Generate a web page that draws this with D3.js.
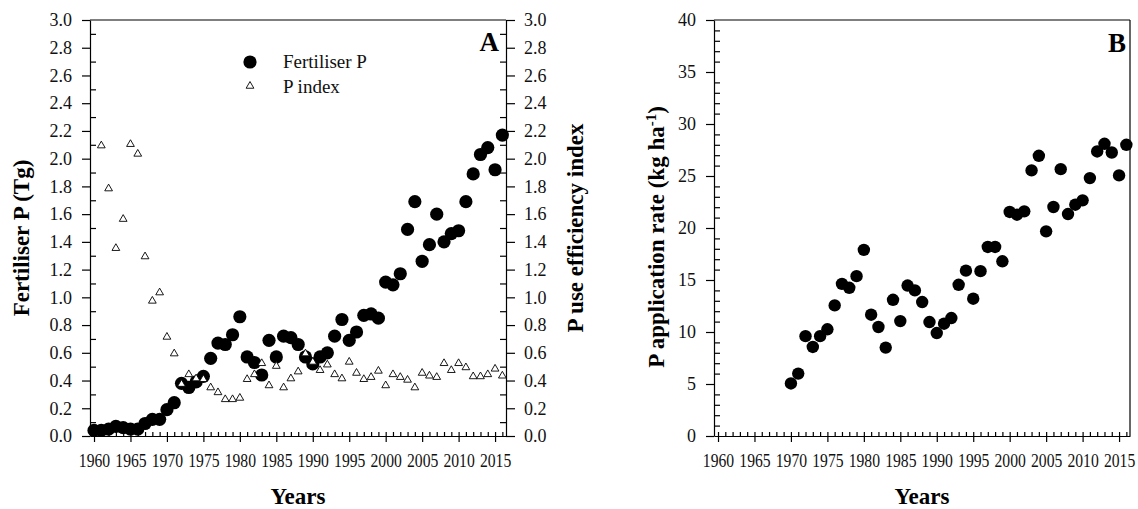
<!DOCTYPE html>
<html>
  <head>
    <meta charset="utf-8">
    <title>Fertiliser P</title>
    <script src="https://d3js.org/d3.v7.min.js"></script>
    <style>
      body { margin: 0; background: #fff; }
      svg { font-family: "Liberation Serif", "Times New Roman", serif; }
      .domain, .tick line { stroke: #000; stroke-width: 1.2; }
    </style>
  </head>
  <body>
    <svg id="chart" width="1138" height="509"></svg>
    <script>
      // data
      var yearsA = [1960, 1961, 1962, 1963, 1964, 1965, 1966, 1967, 1968, 1969,
        1970, 1971, 1972, 1973, 1974, 1975, 1976, 1977, 1978, 1979,
        1980, 1981, 1982, 1983, 1984, 1985, 1986, 1987, 1988, 1989,
        1990, 1991, 1992, 1993, 1994, 1995, 1996, 1997, 1998, 1999,
        2000, 2001, 2002, 2003, 2004, 2005, 2006, 2007, 2008, 2009,
        2010, 2011, 2012, 2013, 2014, 2015, 2016];
      var fertP = [0.04, 0.04, 0.05, 0.07, 0.06, 0.05, 0.05, 0.09, 0.12, 0.12,
        0.19, 0.24, 0.38, 0.35, 0.39, 0.43, 0.56, 0.67, 0.66, 0.73,
        0.86, 0.57, 0.53, 0.44, 0.69, 0.57, 0.72, 0.71, 0.66, 0.57,
        0.52, 0.57, 0.60, 0.72, 0.84, 0.69, 0.75, 0.87, 0.88, 0.85,
        1.11, 1.09, 1.17, 1.49, 1.69, 1.26, 1.38, 1.60, 1.40, 1.46,
        1.48, 1.69, 1.89, 2.03, 2.08, 1.92, 2.17];
      var yearsIdx = yearsA.slice(1);
      var pIndex = [2.10, 1.79, 1.36, 1.57, 2.11, 2.04, 1.30, 0.98, 1.04,
        0.72, 0.60, 0.38, 0.45, 0.42, 0.415, 0.355, 0.32, 0.27, 0.27,
        0.28, 0.415, 0.45, 0.53, 0.37, 0.51, 0.355, 0.42, 0.47, 0.60,
        0.54, 0.48, 0.52, 0.45, 0.42, 0.54, 0.46, 0.415, 0.43, 0.475,
        0.37, 0.45, 0.43, 0.41, 0.355, 0.46, 0.44, 0.43, 0.53, 0.48,
        0.53, 0.50, 0.435, 0.435, 0.45, 0.49, 0.44];
      var yearsB = yearsA.slice(10);
      var appRate = [5.05, 6.0, 9.6, 8.56, 9.6, 10.26, 12.56, 14.63, 14.25, 15.37,
        17.9, 11.66, 10.48, 8.5, 13.1, 11.05, 14.47, 14.0, 12.88, 10.96,
        9.9, 10.8, 11.34, 14.54, 15.9, 13.2, 15.85, 18.18, 18.18, 16.8,
        21.54, 21.28, 21.6, 25.54, 26.94, 19.68, 22.02, 25.66, 21.34, 22.24,
        22.66, 24.8, 27.36, 28.1, 27.26, 25.06, 28.0];
      var xMajor = [1960, 1965, 1970, 1975, 1980, 1985, 1990, 1995, 2000, 2005, 2010, 2015];
      var yMajorA = [0, 0.2, 0.4, 0.6, 0.8, 1.0, 1.2, 1.4, 1.6, 1.8, 2.0, 2.2, 2.4, 2.6, 2.8, 3.0];
      var yMinorA = [0.1, 0.3, 0.5, 0.7, 0.9, 1.1, 1.3, 1.5, 1.7, 1.9, 2.1, 2.3, 2.5, 2.7, 2.9];
      var yMajorB = [0, 5, 10, 15, 20, 25, 30, 35, 40];
      var yMinorB = [1, 2, 3, 4, 6, 7, 8, 9, 11, 12, 13, 14, 16, 17, 18, 19,
        21, 22, 23, 24, 26, 27, 28, 29, 31, 32, 33, 34, 36, 37, 38, 39];

      var svg = d3.select("#chart");
      var plotTop = 20, plotBottom = 436;

      function clean(a) {
        a.attr("font-family", null).attr("font-size", null);
        a.selectAll("text").attr("font-size", 18).attr("fill", "#111");
      }

      function xAxes(g, x) {
        g.append("g")
          .attr("transform", "translate(0," + plotBottom + ")")
          .call(d3.axisBottom(x).tickValues(xMajor).tickSize(6).tickSizeOuter(0).tickPadding(12).tickFormat(d3.format("d")))
          .call(clean)
          .call(function(a) { a.selectAll("text").attr("transform", "scale(0.87,1)"); });
        g.append("g")
          .attr("transform", "translate(0," + plotBottom + ")")
          .call(d3.axisTop(x).tickValues(yearsA).tickSize(4).tickSizeOuter(0).tickFormat(""))
          .select(".domain").remove();
      }

      function yAxis(g, y, xpos, side, major, minor, fmt) {
        var out = side === "left" ? d3.axisLeft(y) : d3.axisRight(y);
        var inn = side === "left" ? d3.axisRight(y) : d3.axisLeft(y);
        g.append("g")
          .attr("transform", "translate(" + xpos + ",0)")
          .call(out.tickValues(major).tickSize(side === "left" ? 8 : 9).tickSizeOuter(0).tickPadding(side === "left" ? 10 : 9).tickFormat(fmt))
          .call(clean);
        g.append("g")
          .attr("transform", "translate(" + xpos + ",0)")
          .call(inn.tickValues(minor).tickSize(6).tickSizeOuter(0).tickFormat(""))
          .select(".domain").remove();
      }

      // ---- panel A ----
      var xA = d3.scaleLinear().domain([1959.45, 2016.5]).range([90, 506]);
      var yA = d3.scaleLinear().domain([0, 3]).range([plotBottom, plotTop]);
      var gA = svg.append("g");

      gA.append("line").attr("x1", 90).attr("x2", 506).attr("y1", plotTop).attr("y2", plotTop)
        .attr("stroke", "#000").attr("stroke-width", 1.2);
      xAxes(gA, xA);
      yAxis(gA, yA, 90, "left", yMajorA, yMinorA, d3.format(".1f"));
      yAxis(gA, yA, 506, "right", yMajorA, yMinorA, d3.format(".1f"));

      gA.selectAll(".fert")
        .data(fertP)
        .enter().append("circle")
          .attr("cx", function(d, i) { return xA(yearsA[i]); })
          .attr("cy", function(d) { return yA(d); })
          .attr("r", 6.6)
          .attr("fill", "#000");

      var tri = d3.symbol().type(d3.symbolTriangle).size(26);
      gA.selectAll(".pidx")
        .data(pIndex)
        .enter().append("path")
          .attr("d", tri)
          .attr("transform", function(d, i) { return "translate(" + xA(yearsIdx[i]) + "," + (yA(d) + 0.8) + ")"; })
          .attr("fill", "#fff")
          .attr("stroke", "#000")
          .attr("stroke-width", 0.9);

      // legend
      gA.append("circle").attr("cx", 250).attr("cy", 62).attr("r", 6.6).attr("fill", "#000");
      gA.append("path").attr("d", tri).attr("transform", "translate(250,86)")
        .attr("fill", "#fff").attr("stroke", "#000").attr("stroke-width", 0.9);
      gA.append("text").attr("x", 283).attr("y", 68).attr("font-size", 19).attr("fill", "#111").text("Fertiliser P");
      gA.append("text").attr("x", 283).attr("y", 93).attr("font-size", 19).attr("fill", "#111").text("P index");

      gA.append("text").attr("x", 499).attr("y", 51).attr("text-anchor", "end")
        .attr("font-size", 27).attr("font-weight", "bold").text("A");

      gA.append("text").attr("transform", "translate(29,238) rotate(-90)")
        .attr("text-anchor", "middle").attr("font-size", 23).attr("font-weight", "bold")
        .text("Fertiliser P (Tg)");
      gA.append("text").attr("transform", "translate(583,228) rotate(-90)")
        .attr("text-anchor", "middle").attr("font-size", 23).attr("font-weight", "bold")
        .text("P use efficiency index");
      gA.append("text").attr("x", 298).attr("y", 504)
        .attr("text-anchor", "middle").attr("font-size", 23).attr("font-weight", "bold")
        .text("Years");

      // ---- panel B ----
      var xB = d3.scaleLinear().domain([1959.45, 2016.5]).range([714, 1130]);
      var yB = d3.scaleLinear().domain([0, 40]).range([plotBottom, plotTop]);
      var gB = svg.append("g");

      gB.append("line").attr("x1", 714).attr("x2", 1130).attr("y1", plotTop).attr("y2", plotTop)
        .attr("stroke", "#000").attr("stroke-width", 1.2);
      gB.append("line").attr("x1", 1130).attr("x2", 1130).attr("y1", plotTop).attr("y2", plotBottom)
        .attr("stroke", "#000").attr("stroke-width", 1.2);
      xAxes(gB, xB);
      yAxis(gB, yB, 714, "left", yMajorB, yMinorB, d3.format("d"));

      gB.selectAll(".rate")
        .data(appRate)
        .enter().append("circle")
          .attr("cx", function(d, i) { return xB(yearsB[i]); })
          .attr("cy", function(d) { return yB(d); })
          .attr("r", 6.2)
          .attr("fill", "#000");

      gB.append("text").attr("x", 1126).attr("y", 52).attr("text-anchor", "end")
        .attr("font-size", 27).attr("font-weight", "bold").text("B");

      var tB = gB.append("text").attr("transform", "translate(664,237) rotate(-90)")
        .attr("text-anchor", "middle").attr("font-size", 23).attr("font-weight", "bold");
      tB.append("tspan").text("P application rate (kg ha");
      tB.append("tspan").attr("baseline-shift", "super").attr("font-size", 15).text("-1");
      tB.append("tspan").text(")");
      gB.append("text").attr("x", 922).attr("y", 504)
        .attr("text-anchor", "middle").attr("font-size", 23).attr("font-weight", "bold")
        .text("Years");
    </script>
  </body>
</html>
